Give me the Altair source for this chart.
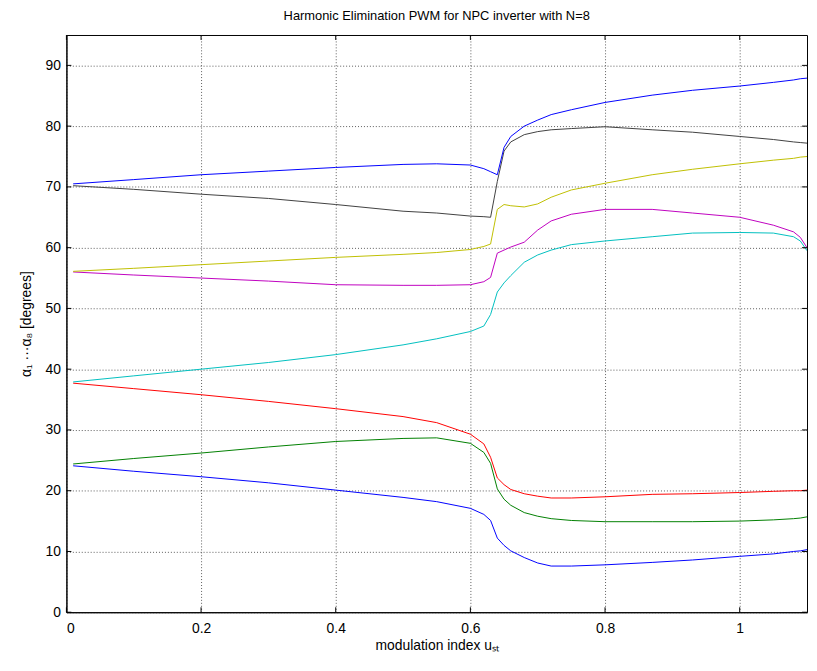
import altair as alt
import pandas as pd

X = [0.01, 0.1, 0.2, 0.3, 0.4, 0.5, 0.55, 0.6, 0.62, 0.63, 0.64, 0.65, 0.66,
     0.68, 0.70, 0.72, 0.75, 0.8, 0.87, 0.93, 1.0, 1.05, 1.08, 1.09, 1.1]

a1 = [24.1, 23.2, 22.3, 21.3, 20.1, 18.9, 18.2, 17.1, 16.1, 15.1, 12.2, 11.0, 10.1,
      9.0, 8.1, 7.6, 7.6, 7.8, 8.2, 8.6, 9.2, 9.6, 10.0, 10.1, 10.3]
a2 = [24.4, 25.3, 26.2, 27.2, 28.1, 28.6, 28.7, 27.8, 26.3, 24.5, 20.3, 18.6, 17.6,
      16.4, 15.8, 15.4, 15.1, 14.9, 14.9, 14.9, 15.0, 15.2, 15.4, 15.5, 15.7]
a3 = [37.7, 36.8, 35.8, 34.7, 33.5, 32.2, 31.2, 29.3, 27.7, 25.5, 22.1, 21.0, 20.2,
      19.5, 19.1, 18.8, 18.8, 19.0, 19.4, 19.5, 19.7, 19.9, 20.0, 20.0, 20.1]
a4 = [37.9, 38.9, 40.0, 41.1, 42.4, 44.0, 45.0, 46.2, 47.1, 49.0, 52.7, 54.2, 55.4,
      57.6, 58.8, 59.6, 60.5, 61.1, 61.8, 62.4, 62.5, 62.4, 61.8, 61.1, 59.5]
a5 = [56.0, 55.5, 55.0, 54.5, 53.9, 53.8, 53.8, 53.9, 54.4, 55.1, 59.1, 59.6, 60.1,
      60.9, 62.9, 64.4, 65.5, 66.3, 66.3, 65.7, 65.0, 63.7, 62.6, 61.7, 60.0]
a6 = [56.1, 56.6, 57.2, 57.8, 58.4, 58.9, 59.2, 59.7, 60.2, 60.6, 66.3, 67.1, 66.9,
      66.7, 67.2, 68.3, 69.5, 70.6, 72.0, 72.9, 73.8, 74.4, 74.7, 74.9, 75.0]
a7 = [70.2, 69.6, 68.8, 68.1, 67.1, 66.0, 65.7, 65.2, 65.1, 65.0, 70.9, 75.9, 77.4,
      78.6, 79.1, 79.4, 79.6, 79.9, 79.4, 79.0, 78.3, 77.8, 77.4, 77.3, 77.2]
a8 = [70.5, 71.2, 72.0, 72.6, 73.2, 73.7, 73.8, 73.6, 73.0, 72.5, 72.0, 76.5, 78.3,
      80.0, 81.0, 81.9, 82.7, 83.9, 85.1, 85.9, 86.6, 87.2, 87.6, 87.8, 87.9]

series_names = ["a1", "a2", "a3", "a4", "a5", "a6", "a7", "a8"]
series_values = [a1, a2, a3, a4, a5, a6, a7, a8]
series_colors = ["#0000FF", "#008000", "#FF0000", "#00BFBF",
                 "#BF00BF", "#BFBF00", "#404040", "#0000FF"]

x_ticks = [0, 0.2, 0.4, 0.6, 0.8, 1.0]
y_ticks = [0, 10, 20, 30, 40, 50, 60, 70, 80, 90]

rows = []
for name, vals in zip(series_names, series_values):
    for xv, yv in zip(X, vals):
        rows.append({"m": xv, "alpha": yv, "s": name})
df = pd.DataFrame(rows)

W, H = 748, 583
FONT = "Liberation Sans"

xscale = alt.Scale(domain=[0, 1.1], nice=False, zero=False)
yscale = alt.Scale(domain=[0, 95], nice=False, zero=False)

lines = alt.Chart(df).mark_line(strokeWidth=1, clip=True).encode(
    x=alt.X("m:Q", scale=xscale,
            axis=alt.Axis(values=x_ticks, format="~g", title="modulation index   uₛₜ",
                          grid=True, tickSize=0, labelPadding=9, titlePadding=4)),
    y=alt.Y("alpha:Q", scale=yscale,
            axis=alt.Axis(values=y_ticks, title="α₁ ···α₈ [degrees]",
                          grid=True, tickSize=0, labelPadding=6, titlePadding=12)),
    color=alt.Color("s:N", scale=alt.Scale(domain=series_names, range=series_colors),
                    legend=None),
    detail="s:N",
)

xt = pd.DataFrame({"v": x_ticks})
yt = pd.DataFrame({"v": y_ticks})

tick_bottom = alt.Chart(xt).mark_rule(color="black", strokeWidth=1).encode(
    x=alt.X("v:Q", scale=xscale), y=alt.value(H), y2=alt.value(H - 5))
tick_top = alt.Chart(xt).mark_rule(color="black", strokeWidth=1).encode(
    x=alt.X("v:Q", scale=xscale), y=alt.value(0), y2=alt.value(5))
tick_left = alt.Chart(yt).mark_rule(color="black", strokeWidth=1).encode(
    y=alt.Y("v:Q", scale=yscale), x=alt.value(0), x2=alt.value(5))
tick_right = alt.Chart(yt).mark_rule(color="black", strokeWidth=1).encode(
    y=alt.Y("v:Q", scale=yscale), x=alt.value(W), x2=alt.value(W - 5))

chart = alt.layer(lines, tick_bottom, tick_top, tick_left, tick_right).properties(
    width=W, height=H,
    background="white",
    title=alt.TitleParams("Harmonic Elimination PWM for NPC inverter with N=8",
                          font=FONT, fontSize=13, fontWeight="normal", color="black",
                          anchor="middle", offset=12),
    padding={"left": 59, "top": 24, "right": 2, "bottom": 47},
    autosize=alt.AutoSizeParams(type="none"),
).configure_view(stroke="black", strokeWidth=1).configure_axis(
    domain=True, domainColor="black", domainWidth=1,
    gridColor="#333", gridDash=[1, 2], gridWidth=1, gridOpacity=0.8,
    labelFont=FONT, labelFontSize=14, labelColor="black",
    titleFont=FONT, titleFontSize=14, titleFontWeight="normal", titleColor="black",
)

chart.save("out.html", embed_options={"renderer": "svg", "actions": False})
